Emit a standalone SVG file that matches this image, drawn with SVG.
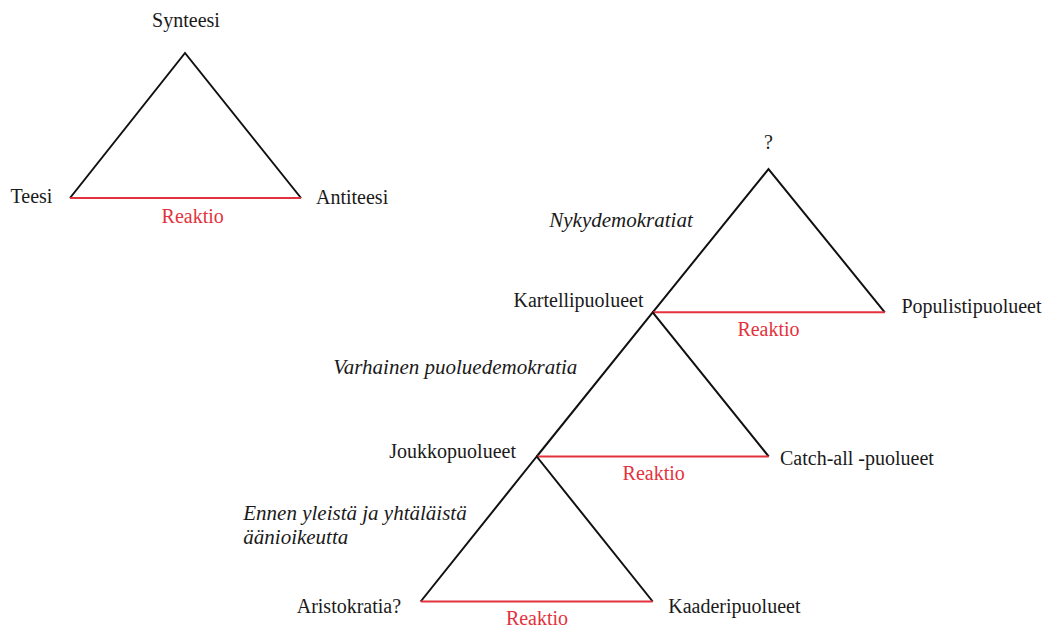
<svg xmlns="http://www.w3.org/2000/svg" width="1048" height="628" viewBox="0 0 1048 628">
<style>
text{font-size:20px;fill:#1a1a1a}
.it{font-style:italic;font-size:21px}
.rx{fill:#e3323d;text-anchor:middle}
.mid{text-anchor:middle}
.side{fill:none;stroke:#111;stroke-width:2;stroke-linejoin:miter}
.base{stroke:#e3323d;stroke-width:2;fill:none}
</style>
<rect width="1048" height="628" fill="#fff"/>
<g id="connectors">
<polyline class="side" points="70,198 185,53 301,198"/>
<line class="base" x1="70" y1="198" x2="301" y2="198"/>
<polyline class="side" points="652.7,312.3 768.5,169 884.8,312.3"/>
<line class="base" x1="652.7" y1="312.3" x2="884.8" y2="312.3"/>
<polyline class="side" points="536.7,456.5 652.7,312.3 768.7,456.5"/>
<line class="base" x1="536.7" y1="456.5" x2="768.7" y2="456.5"/>
<polyline class="side" points="420.7,601.5 536.7,456.5 652.7,601.5"/>
<line class="base" x1="420.7" y1="601.5" x2="652.7" y2="601.5"/>
</g>
<g font-family="'Liberation Serif', 'Times New Roman', Tinos, 'DejaVu Serif', serif">
<g id="synteesi"><text class="mid" x="186" y="27">Synteesi</text></g>
<g id="teesi"><text x="10.5" y="203">Teesi</text></g>
<g id="antiteesi"><text x="316" y="203.5">Antiteesi</text></g>
<g id="reaktio-0"><text class="rx" x="192.7" y="222.5">Reaktio</text></g>
<g id="kysymys"><text class="mid" x="768.5" y="148.5">?</text></g>
<g id="nykydemokratiat"><text class="it" x="549.3" y="227.3">Nykydemokratiat</text></g>
<g id="kartellipuolueet"><text x="513.5" y="306.7">Kartellipuolueet</text></g>
<g id="populistipuolueet"><text x="901.5" y="312.5">Populistipuolueet</text></g>
<g id="reaktio-1"><text class="rx" x="768.5" y="335.8">Reaktio</text></g>
<g id="varhainen"><text class="it" x="333.3" y="374">Varhainen puoluedemokratia</text></g>
<g id="joukkopuolueet"><text x="389.3" y="458.3">Joukkopuolueet</text></g>
<g id="catchall"><text x="780" y="465">Catch-all -puolueet</text></g>
<g id="reaktio-2"><text class="rx" x="653.7" y="480">Reaktio</text></g>
<g id="ennen"><text class="it" x="243.3" y="520">Ennen yleistä ja yhtäläistä</text><text class="it" x="243.3" y="544.3">äänioikeutta</text></g>
<g id="aristokratia"><text x="296.7" y="613.3">Aristokratia?</text></g>
<g id="kaaderipuolueet"><text x="668.3" y="613.3">Kaaderipuolueet</text></g>
<g id="reaktio-3"><text class="rx" x="537" y="625">Reaktio</text></g>
</g>
</svg>
